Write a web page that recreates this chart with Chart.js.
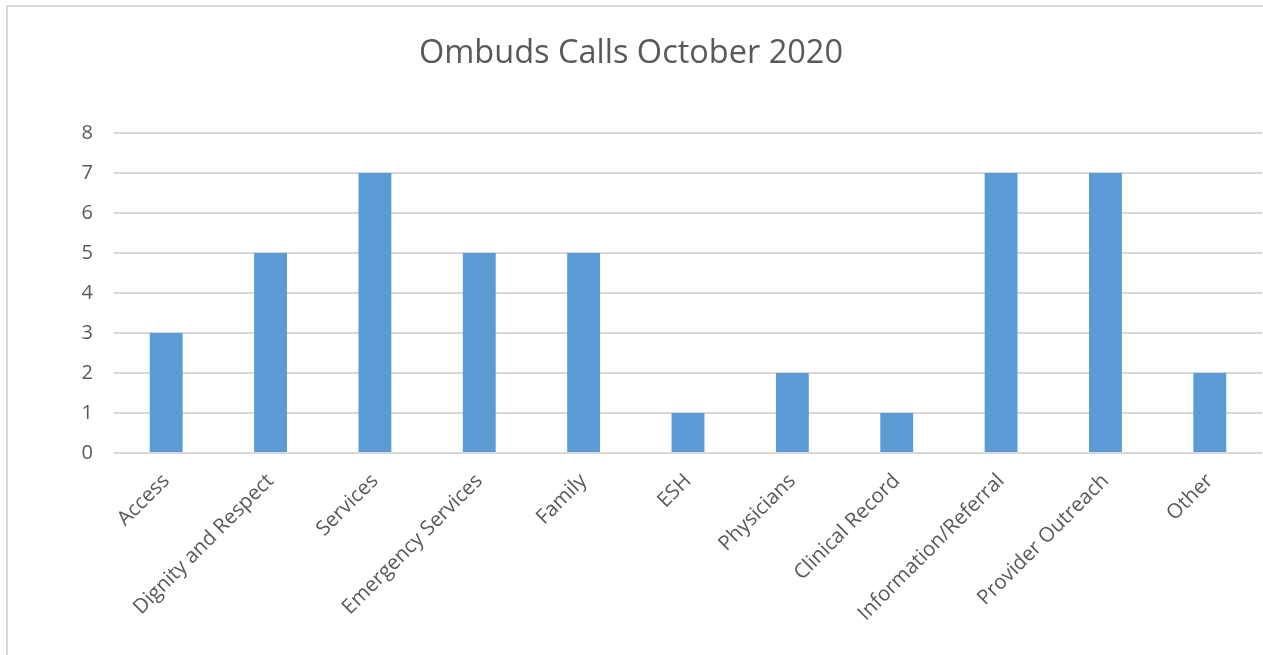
<!DOCTYPE html>
<html><head><meta charset="utf-8">
<script src="https://cdn.jsdelivr.net/npm/chart.js@4"></script>
<style>
html,body{margin:0;padding:0;background:#fff;overflow:hidden;}
#wrap{position:absolute;left:0;top:0;width:1263px;height:655px;}
#frame{position:absolute;left:6px;top:5px;width:1260px;height:660px;border:2px solid #d9d9d9;box-sizing:border-box;pointer-events:none;}
</style></head>
<body>
<div id="wrap"><canvas id="c" width="1263" height="655"></canvas></div>
<div id="frame"></div>
<script>
const categories = ["Access","Dignity and Respect","Services","Emergency Services","Family","ESH","Physicians","Clinical Record","Information/Referral","Provider Outreach","Other"];
const calls = [3,5,7,5,5,1,2,1,7,7,2];
const yTicks = [0,1,2,3,4,5,6,7,8];
const titleText = "Ombuds Calls October 2020";

const FONT = "'Open Sans', sans-serif";
new Chart(document.getElementById('c'), {
  type: 'bar',
  data: {
    labels: categories,
    datasets: [{ label: 'Calls', data: calls, backgroundColor: '#5b9bd5', barPercentage: 0.63, categoryPercentage: 0.5 }]
  },
  options: {
    responsive: false,
    animation: false,
    devicePixelRatio: 1,
    layout: { padding: { left: 0, right: 1, top: 0, bottom: 0 } },
    plugins: {
      legend: { display: false },
      tooltip: { enabled: false },
      title: { display: true, text: titleText, color: '#595959',
        font: { family: FONT, size: 32.5, weight: 'normal' }, padding: { top: 34, bottom: 60 } }
    },
    scales: {
      x: {
        grid: { display: false }, border: { display: false },
        ticks: { color: '#595959', font: { family: FONT, size: 20.5 }, maxRotation: 45, minRotation: 45, padding: 8, autoSkip: false },
        afterFit: (s) => { s.height = 202; }
      },
      y: {
        min: 0, max: 8,
        afterBuildTicks: (s) => { s.ticks = yTicks.map(v => ({ value: v })); },
        grid: { color: '#d9d9d9', lineWidth: 2, drawTicks: false }, border: { display: false },
        ticks: { color: '#595959', font: { family: FONT, size: 20 }, padding: 21 },
        afterFit: (s) => { s.width = 114; }
      }
    }
  }
});
</script>
</body></html>
